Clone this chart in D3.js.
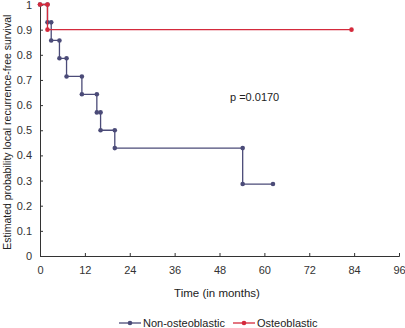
<!DOCTYPE html>
<html>
<head>
<meta charset="utf-8">
<script src="https://cdn.jsdelivr.net/npm/d3@7"></script>
<style>
  body { margin: 0; background: #fff; }
  text { font-family: "Liberation Sans", Arial, sans-serif; }
</style>
</head>
<body>
<svg id="chart" width="405" height="328"></svg>
<script>
// Kaplan-Meier step data: event times (months) and survival after each event
const nonOsteoTimes = [0, 2, 3, 5.2, 7.1, 11.2, 15.2, 16.2, 20, 54.2];
const nonOsteoSurv  = [1, 0.929, 0.857, 0.786, 0.714, 0.643, 0.571, 0.5, 0.429, 0.286];
const nonOsteoEnd = 62.3;
const osteoTimes = [0, 2];
const osteoSurv  = [1, 0.9];
const osteoEnd = 83.3;
const xTicks = [0, 12, 24, 36, 48, 60, 72, 84, 96];
const yTicks = [0, 0.1, 0.2, 0.3, 0.4, 0.5, 0.6, 0.7, 0.8, 0.9, 1];

const svg = d3.select("#chart");
const x = d3.scaleLinear().domain([0, 96]).range([40, 399]);
const y = d3.scaleLinear().domain([0, 1]).range([256, 4.5]);

// axes with inward ticks
svg.append("g")
  .attr("transform", `translate(0,${y(0)})`)
  .call(d3.axisBottom(x).tickValues(xTicks).tickSize(-3).tickPadding(10).tickFormat(d3.format("d")))
  .call(g => g.select(".domain").attr("stroke", "#333"))
  .call(g => g.selectAll(".tick line").attr("stroke", "#333"))
  .call(g => g.selectAll("text").attr("font-size", 11).attr("fill", "#333"));

svg.append("g")
  .attr("transform", `translate(${x(0)},0)`)
  .call(d3.axisLeft(y).tickValues(yTicks).tickSize(-3).tickPadding(8)
    .tickFormat(d => d === 0 || d === 1 ? d3.format("d")(d) : d3.format(".1f")(d)))
  .call(g => g.select(".domain").attr("stroke", "#333"))
  .call(g => g.selectAll(".tick line").attr("stroke", "#333"))
  .call(g => g.selectAll("text").attr("font-size", 11).attr("fill", "#333"));

// step vertices: each event gives a corner before and after the drop
function stepVerts(times, surv, end) {
  const pts = [];
  times.forEach((t, i) => {
    if (i > 0) pts.push([t, surv[i - 1]]);
    pts.push([t, surv[i]]);
  });
  pts.push([end, surv[surv.length - 1]]);
  return pts;
}
const blueData = stepVerts(nonOsteoTimes, nonOsteoSurv, nonOsteoEnd);
const redData = stepVerts(osteoTimes, osteoSurv, osteoEnd);

const line = d3.line().x(d => x(d[0])).y(d => y(d[1]));

function drawSeries(data, color) {
  svg.append("path").datum(data)
    .attr("fill", "none").attr("stroke", color).attr("stroke-width", 1.3)
    .attr("d", line);
  svg.append("g").selectAll("circle").data(data).join("circle")
    .attr("cx", d => x(d[0])).attr("cy", d => y(d[1]))
    .attr("r", 2.3).attr("fill", color);
}
drawSeries(blueData, "#4b4b78");
drawSeries(redData, "#d42a3c");

svg.append("text").attr("x", 230).attr("y", 101)
  .attr("font-size", 11).attr("fill", "#222").text("p =0.0170");

svg.append("text").attr("x", 217).attr("y", 297)
  .attr("text-anchor", "middle").attr("font-size", 11.5).attr("fill", "#222")
  .text("Time (in months)");

svg.append("text")
  .attr("transform", `translate(11,${(y(0) + y(1)) / 2 + 2}) rotate(-90)`)
  .attr("text-anchor", "middle").attr("font-size", 10.5).attr("fill", "#222")
  .text("Estimated probability local recurrence-free survival");

// legend
const legend = [
  {name: "Non-osteoblastic", color: "#4b4b78", x0: 119},
  {name: "Osteoblastic", color: "#d42a3c", x0: 233}
];
const lg = svg.append("g").selectAll("g").data(legend).join("g")
  .attr("transform", d => `translate(${d.x0},323)`);
lg.append("line").attr("x1", 0).attr("x2", 22).attr("y1", 0).attr("y2", 0)
  .attr("stroke", d => d.color).attr("stroke-width", 1.3);
lg.append("circle").attr("cx", 11).attr("cy", 0).attr("r", 2.3).attr("fill", d => d.color);
lg.append("text").attr("x", 24).attr("y", 4).attr("font-size", 11).attr("fill", "#222")
  .text(d => d.name);
</script>
</body>
</html>
